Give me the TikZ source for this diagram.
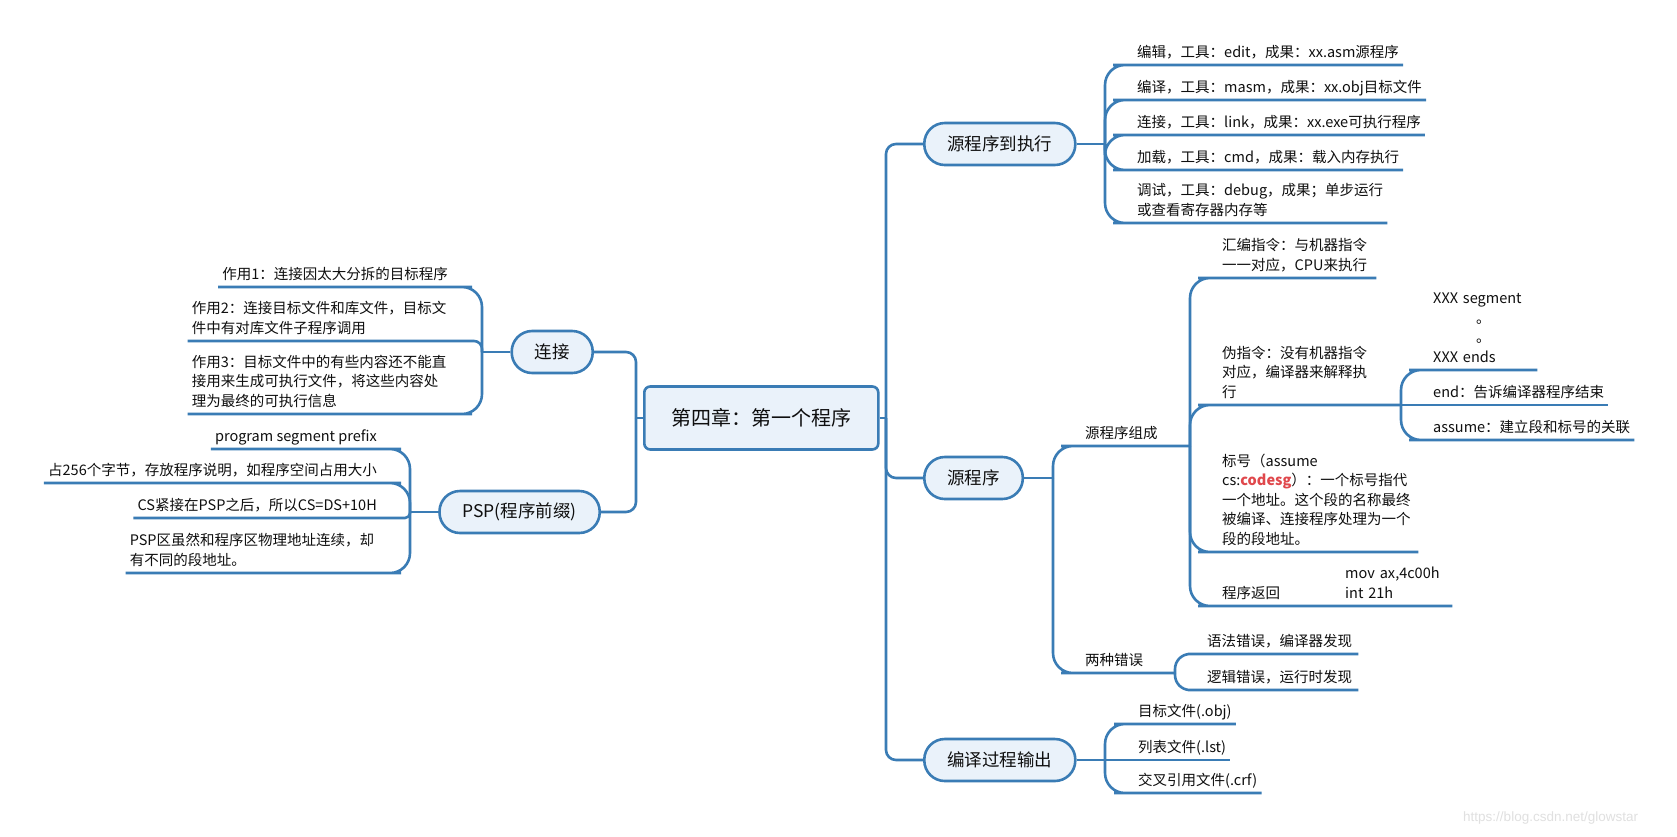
\documentclass[tikz,border=0pt]{standalone}
\usepackage{fontspec}
\setmainfont{Noto Sans CJK SC}
\newfontfamily\wmfont{Liberation Sans}
\setlength{\parindent}{0pt}
\definecolor{lineblue}{RGB}{58,124,181}
\definecolor{nodefill}{RGB}{234,242,250}
\definecolor{txt}{RGB}{15,15,15}
\definecolor{codered}{RGB}{224,72,76}
\newcommand\leaffont{\fontsize{14.5pt}{19.5pt}\selectfont}
\newcommand\ml[1]{\begin{tabular}[b]{@{}l@{}}#1\end{tabular}}
\begin{document}
\begin{tikzpicture}[x=1pt,y=-1pt,
  conn/.style={draw=lineblue,line width=2.6pt,rounded corners=20pt},
  trunk/.style={draw=lineblue,line width=2.6pt,rounded corners=10pt},
  mainbox/.style={draw=lineblue,fill=nodefill,line width=2.6pt,rounded corners=6pt,
    minimum height=63pt,inner xsep=27pt,text=txt,font=\fontsize{20pt}{24pt}\selectfont},
  topic/.style={draw=lineblue,fill=nodefill,line width=2.6pt,rounded corners=20.5pt,
    minimum height=42pt,inner xsep=23pt,text=txt,font=\fontsize{17.5pt}{21pt}\selectfont},
  leaf/.style={inner xsep=4pt,inner ysep=5pt,text depth=2.5pt,font=\leaffont,text=txt,align=left}]
\fill[white] (0,0) rectangle (1677,836);
\useasboundingbox (0,0) rectangle (1677,836);

% centre
\node[mainbox,anchor=west] (center) at (643,418) {第四章：第一个程序};

% right topics
\node[topic,anchor=west] (s1) at (923,144) {源程序到执行};
\node[topic,anchor=west] (s2) at (923,478) {源程序};
\node[topic,anchor=west] (s3) at (923,760) {编译过程输出};
\coordinate (jR) at (886,418);
\draw[trunk] (center.east) -- (jR);
\draw[trunk] (jR) |- (s1.west);
\draw[trunk] (jR) |- (s2.west);
\draw[trunk] (jR) |- (s3.west);

% left topics
\node[topic,anchor=east] (l1) at (594,352) {连接};
\node[topic,anchor=east] (l2) at (601,512) {PSP(程序前缀)};
\coordinate (jL) at (636,418);
\draw[trunk] (center.west) -- (jL);
\draw[trunk] (jL) |- (l1.east);
\draw[trunk] (jL) |- (l2.east);

% s1 children
\coordinate (jA) at (1105,144);
\draw[conn] (s1.east) -- (jA);
\node[leaf,anchor=south west] (a1) at (1133,65) {编辑，工具：edit，成果：xx.asm源程序};
\node[leaf,anchor=south west] (a2) at (1133,100) {编译，工具：masm，成果：xx.obj目标文件};
\node[leaf,anchor=south west] (a3) at (1133,135) {连接，工具：link，成果：xx.exe可执行程序};
\node[leaf,anchor=south west] (a4) at (1133,170) {加载，工具：cmd，成果：载入内存执行};
\node[leaf,anchor=south west] (a5) at (1133,223) {\ml{调试，工具：debug，成果；单步运行\\或查看寄存器内存等}};
\foreach \n in {a1,a2,a3,a4,a5}{\draw[conn] (jA) |- (\n.south west) -- (\n.south east);}

% s2 children
\coordinate (jB) at (1053,478);
\draw[conn] (s2.east) -- (jB);
\node[leaf,anchor=south west] (b1) at (1081,446) {源程序组成};
\coordinate (jB1) at (1190,446);
\draw[conn] (jB) |- (b1.south west) -- (jB1);
\node[leaf,anchor=south west] (b2) at (1081,673) {两种错误};
\coordinate (jB2) at (1175,673);
\draw[conn] (jB) |- (b2.south west) -- (jB2);

% b1 children
\node[leaf,anchor=south west,text width=150pt] (c1) at (1218,278) {\ml{汇编指令：与机器指令\\一一对应，CPU来执行}};
\draw[conn] (jB1) |- (c1.south west) -- (c1.south east);
\node[leaf,anchor=south west] (c2) at (1218,405) {\ml{伪指令：没有机器指令\\对应，编译器来解释执\\行}};
\coordinate (jC) at (1401,405);
\draw[conn] (jB1) |- (c2.south west) -- (jC);
\node[leaf,anchor=south west,text width=192pt] (c3) at (1218,552) {\ml{标号（assume\\cs:\textcolor{codered}{\textbf{codesg}}）：一个标号指代\\一个地址。这个段的名称最终\\被编译、连接程序处理为一个\\段的段地址。}};
\draw[conn] (jB1) |- (c3.south west) -- (c3.south east);
\node[leaf,anchor=south west,text width=226pt] (c4) at (1218,606) {\begin{tabular}[b]{@{}l@{\hspace{65pt}}l@{}} & mov ax,4c00h\\ 程序返回 & int 21h\end{tabular}};
\draw[conn] (jB1) |- (c4.south west) -- (c4.south east);

% c2 children
\node[leaf,anchor=south west,text width=100pt] (d1) at (1429,370) {\ml{XXX segment\\\hspace*{43pt}。\\\hspace*{43pt}。\\XXX ends}};
\draw[conn] (jC) |- (d1.south west) -- (d1.south east);
\node[leaf,anchor=south west] (d2) at (1429,405) {end：告诉编译器程序结束};
\draw[conn] (jC) -- (d2.south west) -- (d2.south east);
\node[leaf,anchor=south west] (d3) at (1429,440) {assume：建立段和标号的关联};
\draw[conn] (jC) |- (d3.south west) -- (d3.south east);

% b2 children
\node[leaf,anchor=south west,text width=147pt] (e1) at (1203,654) {语法错误，编译器发现};
\node[leaf,anchor=south west,text width=147pt] (e2) at (1203,690) {逻辑错误，运行时发现};
\draw[conn,rounded corners=15pt] (jB2) |- (e1.south west) -- (e1.south east);
\draw[conn,rounded corners=15pt] (jB2) |- (e2.south west) -- (e2.south east);

% s3 children
\coordinate (jD) at (1105,760);
\draw[conn] (s3.east) -- (jD);
\node[leaf,anchor=south west] (f1) at (1134,724) {目标文件(.obj)};
\node[leaf,anchor=south west] (f2) at (1134,760) {列表文件(.lst)};
\node[leaf,anchor=south west] (f3) at (1134,793) {交叉引用文件(.crf)};
\draw[conn] (jD) |- (f1.south west) -- (f1.south east);
\draw[conn] (jD) -- (f2.south west) -- (f2.south east);
\draw[conn] (jD) |- (f3.south west) -- (f3.south east);

% l1 children
\coordinate (jE) at (482,352);
\draw[conn] (l1.west) -- (jE);
\node[leaf,anchor=south east] (g1) at (452,287) {作用1：连接因太大分拆的目标程序};
\node[leaf,anchor=south east,text width=256pt] (g2) at (452,341) {\ml{作用2：连接目标文件和库文件，目标文\\件中有对库文件子程序调用}};
\node[leaf,anchor=south east,text width=256pt] (g3) at (452,414) {\ml{作用3：目标文件中的有些内容还不能直\\接用来生成可执行文件，将这些内容处\\理为最终的可执行信息}};
\draw[conn] (jE) |- (g1.south east) -- (g1.south west);
\draw[conn,rounded corners=8pt] (jE) |- (g2.south east) -- (g2.south west);
\draw[conn] (jE) |- (g3.south east) -- (g3.south west);

% l2 children
\coordinate (jF) at (410,512);
\draw[conn] (l2.west) -- (jF);
\node[leaf,anchor=south east] (h1) at (381,449) {program segment prefix};
\node[leaf,anchor=south east] (h2) at (381,483) {占256个字节，存放程序说明，如程序空间占用大小};
\node[leaf,anchor=south east] (h3) at (381,518) {CS紧接在PSP之后，所以CS=DS+10H};
\node[leaf,anchor=south east,text width=247pt] (h4) at (381,573) {\ml{PSP区虽然和程序区物理地址连续，却\\有不同的段地址。}};
\draw[conn] (jF) |- (h1.south east) -- (h1.south west);
\draw[conn] (jF) |- (h2.south east) -- (h2.south west);
\draw[conn,rounded corners=5pt] (jF) |- (h3.south east) -- (h3.south west);
\draw[conn] (jF) |- (h4.south east) -- (h4.south west);

% watermark
\node[anchor=west,inner sep=0pt,text=black!12,font=\wmfont\fontsize{13.5pt}{16pt}\selectfont] (wm) at (1463,818) {https://blog.csdn.net/glowstar};
\end{tikzpicture}
\end{document}
